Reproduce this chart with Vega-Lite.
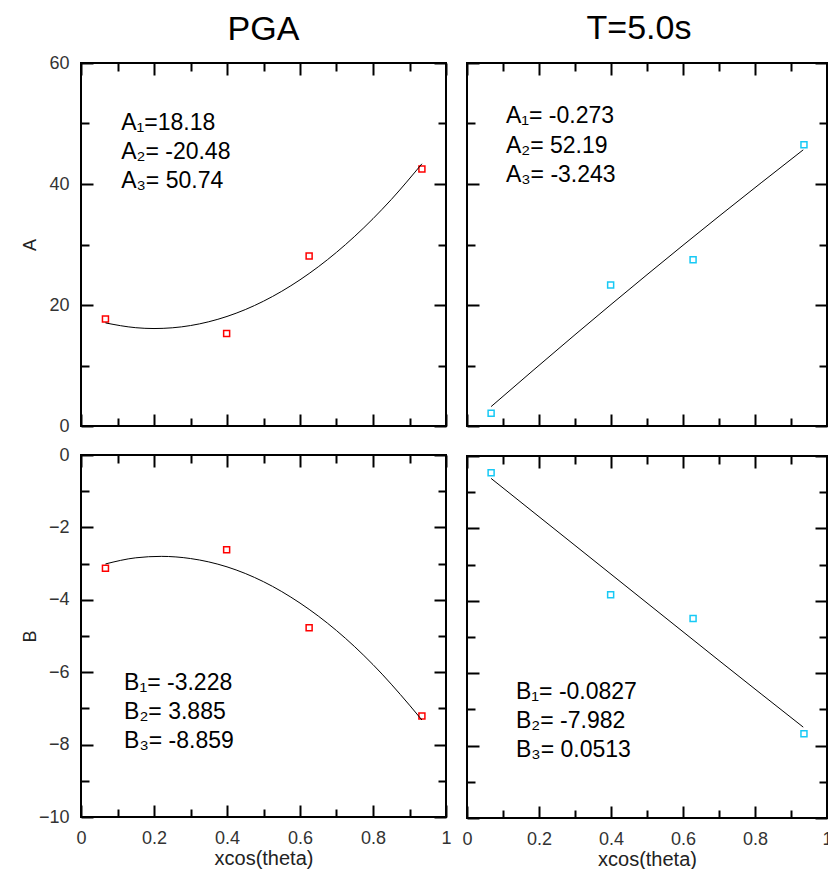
{
  "$schema": "https://vega.github.io/schema/vega-lite/v6.json",
  "background": "white",
  "padding": {"left": 20, "top": 11, "right": 0, "bottom": 0},
  "datasets": {
    "pts": [
      {"panel": "A_PGA", "x": 0.067, "y": 17.7}, {"panel": "A_PGA", "x": 0.399, "y": 15.3}, {"panel": "A_PGA", "x": 0.625, "y": 28.1}, {"panel": "A_PGA", "x": 0.934, "y": 42.5},
      {"panel": "A_T5", "x": 0.067, "y": 2.1}, {"panel": "A_T5", "x": 0.399, "y": 23.3}, {"panel": "A_T5", "x": 0.628, "y": 27.5}, {"panel": "A_T5", "x": 0.936, "y": 46.5},
      {"panel": "B_PGA", "x": 0.067, "y": -3.13}, {"panel": "B_PGA", "x": 0.399, "y": -2.62}, {"panel": "B_PGA", "x": 0.625, "y": -4.77}, {"panel": "B_PGA", "x": 0.934, "y": -7.21},
      {"panel": "B_T5", "x": 0.067, "y": -0.46}, {"panel": "B_T5", "x": 0.399, "y": -3.83}, {"panel": "B_T5", "x": 0.628, "y": -4.49}, {"panel": "B_T5", "x": 0.936, "y": -7.67}
    ],
    "curves": [
      {"panel": "A_PGA", "x": 0.067, "y": 17.04}, {"panel": "A_PGA", "x": 0.15, "y": 16.25}, {"panel": "A_PGA", "x": 0.2, "y": 16.11}, {"panel": "A_PGA", "x": 0.25, "y": 16.23},
      {"panel": "A_PGA", "x": 0.35, "y": 17.23}, {"panel": "A_PGA", "x": 0.45, "y": 19.24}, {"panel": "A_PGA", "x": 0.55, "y": 22.27}, {"panel": "A_PGA", "x": 0.65, "y": 26.31},
      {"panel": "A_PGA", "x": 0.75, "y": 31.36}, {"panel": "A_PGA", "x": 0.85, "y": 37.43}, {"panel": "A_PGA", "x": 0.934, "y": 43.34},
      {"panel": "A_T5", "x": 0.067, "y": 3.21}, {"panel": "A_T5", "x": 0.3, "y": 15.09}, {"panel": "A_T5", "x": 0.5, "y": 25.01}, {"panel": "A_T5", "x": 0.7, "y": 34.67}, {"panel": "A_T5", "x": 0.934, "y": 45.65},
      {"panel": "B_PGA", "x": 0.067, "y": -3.01}, {"panel": "B_PGA", "x": 0.15, "y": -2.84}, {"panel": "B_PGA", "x": 0.22, "y": -2.80}, {"panel": "B_PGA", "x": 0.3, "y": -2.86},
      {"panel": "B_PGA", "x": 0.4, "y": -3.09}, {"panel": "B_PGA", "x": 0.5, "y": -3.50}, {"panel": "B_PGA", "x": 0.6, "y": -4.09}, {"panel": "B_PGA", "x": 0.7, "y": -4.85},
      {"panel": "B_PGA", "x": 0.8, "y": -5.79}, {"panel": "B_PGA", "x": 0.9, "y": -6.91}, {"panel": "B_PGA", "x": 0.934, "y": -7.32},
      {"panel": "B_T5", "x": 0.067, "y": -0.62}, {"panel": "B_T5", "x": 0.3, "y": -2.47}, {"panel": "B_T5", "x": 0.5, "y": -4.06}, {"panel": "B_T5", "x": 0.7, "y": -5.65}, {"panel": "B_T5", "x": 0.934, "y": -7.49}
    ],
    "labels": [
      {"panel": "A_PGA", "x": 0.11, "y": 48.9, "text": "A₁=18.18"}, {"panel": "A_PGA", "x": 0.11, "y": 44.2, "text": "A₂= -20.48"}, {"panel": "A_PGA", "x": 0.11, "y": 39.3, "text": "A₃= 50.74"},
      {"panel": "A_T5", "x": 0.108, "y": 50.1, "text": "A₁= -0.273"}, {"panel": "A_T5", "x": 0.108, "y": 45.2, "text": "A₂= 52.19"}, {"panel": "A_T5", "x": 0.108, "y": 40.4, "text": "A₃= -3.243"},
      {"panel": "B_PGA", "x": 0.118, "y": -6.49, "text": "B₁= -3.228"}, {"panel": "B_PGA", "x": 0.118, "y": -7.29, "text": "B₂= 3.885"}, {"panel": "B_PGA", "x": 0.118, "y": -8.1, "text": "B₃= -8.859"},
      {"panel": "B_T5", "x": 0.136, "y": -6.7, "text": "B₁= -0.0827"}, {"panel": "B_T5", "x": 0.136, "y": -7.5, "text": "B₂= -7.982"}, {"panel": "B_T5", "x": 0.136, "y": -8.31, "text": "B₃= 0.0513"}
    ]
  },
  "spacing": 7,
  "hconcat": [
    {
      "spacing": 9,
      "vconcat": [
        {
          "width": 365, "height": 363,
          "title": {"text": "PGA", "fontSize": 34, "font": "Liberation Sans", "fontWeight": "normal", "color": "black", "offset": 7},
          "layer": [
            {
              "data": {"name": "pts"}, "transform": [{"filter": "datum.panel === 'A_PGA'"}],
              "mark": {"type": "point", "shape": "square", "filled": false, "stroke": "#ff0000", "strokeWidth": 1.5, "size": 36, "opacity": 1},
              "encoding": {
                "x": {"field": "x", "type": "quantitative", "scale": {"domain": [0, 1], "nice": false},
                  "axis": {"orient": "bottom", "values": [0, 0.1, 0.2, 0.3, 0.4, 0.5, 0.6, 0.7, 0.8, 0.9, 1], "labels": false, "title": null, "minExtent": 0, "maxExtent": 0,
                    "tickSize": {"condition": {"test": "round(datum.value*10) % 2 === 0", "value": -12}, "value": -8}}},
                "y": {"field": "y", "type": "quantitative", "scale": {"domain": [0, 60], "nice": false},
                  "axis": {"orient": "left", "values": [0, 10, 20, 30, 40, 50, 60], "labelExpr": "datum.value % 20 === 0 ? datum.label : ''", "title": "A",
                    "tickSize": {"condition": {"test": "datum.value % 20 === 0", "value": -12}, "value": -8}, "labelPadding": 24, "titlePadding": 2, "minExtent": 40, "maxExtent": 40}}
              }
            },
            {
              "data": {"name": "curves"}, "transform": [{"filter": "datum.panel === 'A_PGA'"}],
              "mark": {"type": "line", "color": "black", "strokeWidth": 1, "interpolate": "monotone"},
              "encoding": {
                "x": {"field": "x", "type": "quantitative", "scale": {"domain": [0, 1], "nice": false},
                  "axis": {"orient": "top", "values": [0, 0.1, 0.2, 0.3, 0.4, 0.5, 0.6, 0.7, 0.8, 0.9, 1], "labels": false, "title": null, "minExtent": 0, "maxExtent": 0,
                    "tickSize": {"condition": {"test": "round(datum.value*10) % 2 === 0", "value": -12}, "value": -8}}},
                "y": {"field": "y", "type": "quantitative", "scale": {"domain": [0, 60], "nice": false},
                  "axis": {"orient": "right", "values": [0, 10, 20, 30, 40, 50, 60], "labels": false, "title": null, "minExtent": 0, "maxExtent": 0,
                    "tickSize": {"condition": {"test": "datum.value % 20 === 0", "value": -12}, "value": -8}}}
              }
            },
            {
              "data": {"name": "labels"}, "transform": [{"filter": "datum.panel === 'A_PGA'"}],
              "mark": {"type": "text", "align": "left", "baseline": "alphabetic", "fontSize": 23, "font": "Liberation Sans", "color": "black"},
              "encoding": {
                "x": {"field": "x", "type": "quantitative", "axis": null},
                "y": {"field": "y", "type": "quantitative", "axis": null},
                "text": {"field": "text"}
              }
            }
          ],
          "resolve": {"axis": {"x": "independent", "y": "independent"}}
        },
        {
          "width": 365, "height": 362,
          "layer": [
            {
              "data": {"name": "pts"}, "transform": [{"filter": "datum.panel === 'B_PGA'"}],
              "mark": {"type": "point", "shape": "square", "filled": false, "stroke": "#ff0000", "strokeWidth": 1.5, "size": 36, "opacity": 1},
              "encoding": {
                "x": {"field": "x", "type": "quantitative", "scale": {"domain": [0, 1], "nice": false},
                  "axis": {"orient": "bottom", "values": [0, 0.1, 0.2, 0.3, 0.4, 0.5, 0.6, 0.7, 0.8, 0.9, 1], "labelExpr": "round(datum.value*10) % 2 === 0 ? format(datum.value, '~g') : ''", "title": "xcos(theta)", "titleFontSize": 20,
                    "tickSize": {"condition": {"test": "round(datum.value*10) % 2 === 0", "value": -12}, "value": -8}, "labelPadding": 24, "titlePadding": -3}},
                "y": {"field": "y", "type": "quantitative", "scale": {"domain": [-10, 0], "nice": false},
                  "axis": {"orient": "left", "values": [-10, -9, -8, -7, -6, -5, -4, -3, -2, -1, 0], "labelExpr": "datum.value % 2 === 0 ? datum.label : ''", "title": "B",
                    "tickSize": {"condition": {"test": "datum.value % 2 === 0", "value": -12}, "value": -8}, "labelPadding": 24, "titlePadding": 2, "minExtent": 40, "maxExtent": 40}}
              }
            },
            {
              "data": {"name": "curves"}, "transform": [{"filter": "datum.panel === 'B_PGA'"}],
              "mark": {"type": "line", "color": "black", "strokeWidth": 1, "interpolate": "monotone"},
              "encoding": {
                "x": {"field": "x", "type": "quantitative", "scale": {"domain": [0, 1], "nice": false},
                  "axis": {"orient": "top", "values": [0, 0.1, 0.2, 0.3, 0.4, 0.5, 0.6, 0.7, 0.8, 0.9, 1], "labels": false, "title": null, "minExtent": 0, "maxExtent": 0,
                    "tickSize": {"condition": {"test": "round(datum.value*10) % 2 === 0", "value": -12}, "value": -8}}},
                "y": {"field": "y", "type": "quantitative", "scale": {"domain": [-10, 0], "nice": false},
                  "axis": {"orient": "right", "values": [-10, -9, -8, -7, -6, -5, -4, -3, -2, -1, 0], "labels": false, "title": null, "minExtent": 0, "maxExtent": 0,
                    "tickSize": {"condition": {"test": "datum.value % 2 === 0", "value": -12}, "value": -8}}}
              }
            },
            {
              "data": {"name": "labels"}, "transform": [{"filter": "datum.panel === 'B_PGA'"}],
              "mark": {"type": "text", "align": "left", "baseline": "alphabetic", "fontSize": 23, "font": "Liberation Sans", "color": "black"},
              "encoding": {
                "x": {"field": "x", "type": "quantitative", "axis": null},
                "y": {"field": "y", "type": "quantitative", "axis": null},
                "text": {"field": "text"}
              }
            }
          ],
          "resolve": {"axis": {"x": "independent", "y": "independent"}}
        }
      ]
    },
    {
      "spacing": 26,
      "vconcat": [
        {
          "width": 360, "height": 363,
          "title": {"text": "T=5.0s", "fontSize": 34, "font": "Liberation Sans", "fontWeight": "normal", "color": "black", "offset": 16, "dx": -8},
          "layer": [
            {
              "data": {"name": "pts"}, "transform": [{"filter": "datum.panel === 'A_T5'"}],
              "mark": {"type": "point", "shape": "square", "filled": false, "stroke": "#17c9f5", "strokeWidth": 1.5, "size": 36, "opacity": 1},
              "encoding": {
                "x": {"field": "x", "type": "quantitative", "scale": {"domain": [0, 1], "nice": false},
                  "axis": {"orient": "bottom", "values": [0, 0.1, 0.2, 0.3, 0.4, 0.5, 0.6, 0.7, 0.8, 0.9, 1], "labels": false, "title": null, "minExtent": 0, "maxExtent": 0,
                    "tickSize": {"condition": {"test": "round(datum.value*10) % 2 === 0", "value": -12}, "value": -8}}},
                "y": {"field": "y", "type": "quantitative", "scale": {"domain": [0, 60], "nice": false},
                  "axis": {"orient": "left", "values": [0, 10, 20, 30, 40, 50, 60], "labels": false, "title": null, "minExtent": 0, "maxExtent": 0,
                    "tickSize": {"condition": {"test": "datum.value % 20 === 0", "value": -12}, "value": -8}}}
              }
            },
            {
              "data": {"name": "curves"}, "transform": [{"filter": "datum.panel === 'A_T5'"}],
              "mark": {"type": "line", "color": "black", "strokeWidth": 1, "interpolate": "monotone"},
              "encoding": {
                "x": {"field": "x", "type": "quantitative", "scale": {"domain": [0, 1], "nice": false},
                  "axis": {"orient": "top", "values": [0, 0.1, 0.2, 0.3, 0.4, 0.5, 0.6, 0.7, 0.8, 0.9, 1], "labels": false, "title": null, "minExtent": 0, "maxExtent": 0,
                    "tickSize": {"condition": {"test": "round(datum.value*10) % 2 === 0", "value": -12}, "value": -8}}},
                "y": {"field": "y", "type": "quantitative", "scale": {"domain": [0, 60], "nice": false},
                  "axis": {"orient": "right", "values": [0, 10, 20, 30, 40, 50, 60], "labels": false, "title": null, "minExtent": 0, "maxExtent": 0,
                    "tickSize": {"condition": {"test": "datum.value % 20 === 0", "value": -12}, "value": -8}}}
              }
            },
            {
              "data": {"name": "labels"}, "transform": [{"filter": "datum.panel === 'A_T5'"}],
              "mark": {"type": "text", "align": "left", "baseline": "alphabetic", "fontSize": 23, "font": "Liberation Sans", "color": "black"},
              "encoding": {
                "x": {"field": "x", "type": "quantitative", "axis": null},
                "y": {"field": "y", "type": "quantitative", "axis": null},
                "text": {"field": "text"}
              }
            }
          ],
          "resolve": {"axis": {"x": "independent", "y": "independent"}}
        },
        {
          "width": 360, "height": 362,
          "layer": [
            {
              "data": {"name": "pts"}, "transform": [{"filter": "datum.panel === 'B_T5'"}],
              "mark": {"type": "point", "shape": "square", "filled": false, "stroke": "#17c9f5", "strokeWidth": 1.5, "size": 36, "opacity": 1},
              "encoding": {
                "x": {"field": "x", "type": "quantitative", "scale": {"domain": [0, 1], "nice": false},
                  "axis": {"orient": "bottom", "values": [0, 0.1, 0.2, 0.3, 0.4, 0.5, 0.6, 0.7, 0.8, 0.9, 1], "labelExpr": "round(datum.value*10) % 2 === 0 ? format(datum.value, '~g') : ''", "title": "xcos(theta)", "titleFontSize": 20,
                    "tickSize": {"condition": {"test": "round(datum.value*10) % 2 === 0", "value": -12}, "value": -8}, "labelPadding": 24, "titlePadding": -3}},
                "y": {"field": "y", "type": "quantitative", "scale": {"domain": [-10, 0], "nice": false},
                  "axis": {"orient": "left", "values": [-10, -9, -8, -7, -6, -5, -4, -3, -2, -1, 0], "labels": false, "title": null, "minExtent": 0, "maxExtent": 0,
                    "tickSize": {"condition": {"test": "datum.value % 2 === 0", "value": -12}, "value": -8}}}
              }
            },
            {
              "data": {"name": "curves"}, "transform": [{"filter": "datum.panel === 'B_T5'"}],
              "mark": {"type": "line", "color": "black", "strokeWidth": 1, "interpolate": "monotone"},
              "encoding": {
                "x": {"field": "x", "type": "quantitative", "scale": {"domain": [0, 1], "nice": false},
                  "axis": {"orient": "top", "values": [0, 0.1, 0.2, 0.3, 0.4, 0.5, 0.6, 0.7, 0.8, 0.9, 1], "labels": false, "title": null, "minExtent": 0, "maxExtent": 0,
                    "tickSize": {"condition": {"test": "round(datum.value*10) % 2 === 0", "value": -12}, "value": -8}}},
                "y": {"field": "y", "type": "quantitative", "scale": {"domain": [-10, 0], "nice": false},
                  "axis": {"orient": "right", "values": [-10, -9, -8, -7, -6, -5, -4, -3, -2, -1, 0], "labels": false, "title": null, "minExtent": 0, "maxExtent": 0,
                    "tickSize": {"condition": {"test": "datum.value % 2 === 0", "value": -12}, "value": -8}}}
              }
            },
            {
              "data": {"name": "labels"}, "transform": [{"filter": "datum.panel === 'B_T5'"}],
              "mark": {"type": "text", "align": "left", "baseline": "alphabetic", "fontSize": 23, "font": "Liberation Sans", "color": "black"},
              "encoding": {
                "x": {"field": "x", "type": "quantitative", "axis": null},
                "y": {"field": "y", "type": "quantitative", "axis": null},
                "text": {"field": "text"}
              }
            }
          ],
          "resolve": {"axis": {"x": "independent", "y": "independent"}}
        }
      ]
    }
  ],
  "config": {
    "view": {"stroke": "black", "strokeWidth": 2},
    "axis": {
      "domain": false, "grid": false, "tickColor": "black", "tickWidth": 2,
      "labelFont": "Liberation Sans", "labelFontSize": 18, "labelColor": "#333333", "labelFlush": false, "labelOverlap": false,
      "titleFont": "Liberation Sans", "titleFontSize": 18, "titleFontWeight": "normal", "titleColor": "#222222"
    }
  }
}
